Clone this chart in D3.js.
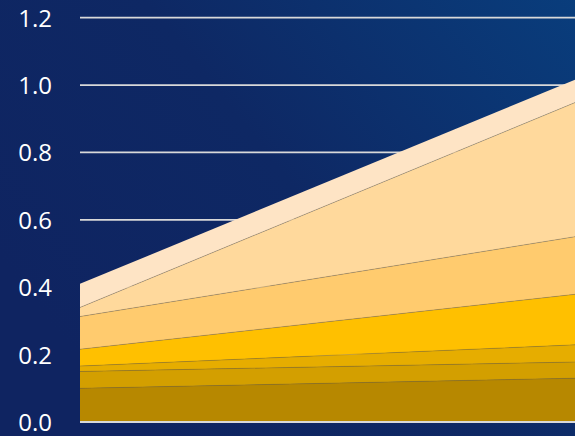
<!DOCTYPE html>
<html>
<head>
<meta charset="utf-8">
<script src="https://cdn.jsdelivr.net/npm/d3@7"></script>
<style>
  html, body { margin: 0; padding: 0; background: #0f2461; }
  svg { display: block; }
</style>
</head>
<body>
<div id="chart"></div>
<script>
// two periods, seven stacked layers (bottom to top)
const periods = ['start', 'end'];
const seriesKeys = ['s1', 's2', 's3', 's4', 's5', 's6', 's7'];
const s1 = [0.100, 0.130];
const s2 = [0.050, 0.048];
const s3 = [0.016, 0.051];
const s4 = [0.050, 0.150];
const s5 = [0.097, 0.171];
const s6 = [0.027, 0.398];
const s7 = [0.070, 0.068];
const yTicks = [0, 0.2, 0.4, 0.6, 0.8, 1.0, 1.2];
const layerColors = ['#b78800', '#d39f00', '#e6ad00', '#ffc000', '#ffcb6e', '#ffd99c', '#fee4c5'];

const width = 575, height = 436;
const margin = {top: 17.7, right: 0, bottom: 14, left: 80};

const table = periods.map((p, i) => ({
  period: p,
  s1: s1[i], s2: s2[i], s3: s3[i], s4: s4[i], s5: s5[i], s6: s6[i], s7: s7[i]
}));

const svg = d3.select('#chart').append('svg')
  .attr('width', width).attr('height', height);

// background gradient
const defs = svg.append('defs');
const grad = defs.append('linearGradient').attr('id', 'bg')
  .attr('x1', '0%').attr('y1', '60%').attr('x2', '100%').attr('y2', '0%');
grad.append('stop').attr('offset', '0%').attr('stop-color', '#0f2461');
grad.append('stop').attr('offset', '45%').attr('stop-color', '#0e2864');
grad.append('stop').attr('offset', '100%').attr('stop-color', '#093d7c');
svg.append('rect').attr('width', width).attr('height', height).attr('fill', 'url(#bg)');

const x = d3.scalePoint().domain(periods).range([margin.left, width - margin.right]);
const y = d3.scaleLinear().domain([0, 1.2]).range([height - margin.bottom, margin.top]);

// gridlines behind the areas
svg.append('g').attr('class', 'grid')
  .selectAll('line').data(yTicks.slice(1)).join('line')
  .attr('x1', margin.left).attr('x2', width)
  .attr('y1', d => y(d)).attr('y2', d => y(d))
  .attr('stroke', '#d9d9d9').attr('stroke-width', 1.8);

const stacked = d3.stack().keys(seriesKeys)(table);

const area = d3.area()
  .x(d => x(d.data.period))
  .y0(d => y(d[0]))
  .y1(d => y(d[1]));

const topLine = d3.line()
  .x(d => x(d.data.period))
  .y(d => y(d[1]));

const layers = svg.append('g').attr('class', 'layers');
layers.selectAll('path.area').data(stacked).join('path')
  .attr('class', 'area')
  .attr('d', area)
  .attr('fill', (d, i) => layerColors[i]);

layers.selectAll('path.edge').data(stacked.slice(0, -1)).join('path')
  .attr('class', 'edge')
  .attr('d', topLine)
  .attr('fill', 'none')
  .attr('stroke', 'rgba(120,100,60,0.45)')
  .attr('stroke-width', 0.8);

// zero baseline
svg.append('line')
  .attr('x1', margin.left).attr('x2', width)
  .attr('y1', y(0)).attr('y2', y(0))
  .attr('stroke', '#d9d9d9').attr('stroke-width', 1.8);

// y axis labels
const yAxis = d3.axisLeft(y).tickValues(yTicks).tickFormat(d3.format('.1f')).tickSize(0).tickPadding(0);
const axisG = svg.append('g')
  .attr('transform', `translate(52,0)`)
  .call(yAxis);
axisG.select('.domain').remove();
axisG.selectAll('text')
  .attr('fill', '#ffffff')
  .attr('dy', '0.35em')
  .style('font-family', '"Open Sans", sans-serif')
  .style('font-size', '24px');
</script>
</body>
</html>
